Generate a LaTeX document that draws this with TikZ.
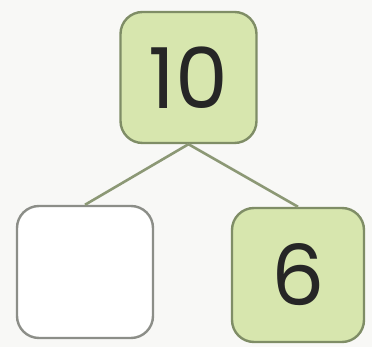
\documentclass[tikz,border=0pt]{standalone}
\usepackage{fontspec}
\setsansfont{Poppins}
\usepackage{tikz}
\usetikzlibrary{positioning}
\definecolor{boxgreen}{HTML}{D7E6AE}
\definecolor{edgegreen}{HTML}{7F8D66}
\definecolor{edgegray}{HTML}{8C8E88}
\definecolor{paper}{HTML}{F8F8F6}
\tikzset{
    numbox/.style={draw=edgegreen, fill=boxgreen, line width=2.4pt, rounded corners=22pt,
        minimum width=136pt, minimum height=132pt, inner sep=0pt,
        font=\sffamily\fontsize{84}{84}\selectfont, text=black!85},
    blankbox/.style={numbox, draw=edgegray, fill=white},
    branch/.style={draw=edgegreen!90, line width=2.6pt},
}
\begin{document}
\begin{tikzpicture}[x=1pt,y=1pt]
    \fill[paper] (0,0) rectangle (372,347);
    \useasboundingbox (0,0) rectangle (372,347);
    \node[numbox, minimum height=131pt] (whole) at (188.5,269.5) {10};
    \node[blankbox] (partA) at (85,75) {};
    \node[numbox, minimum width=132pt, minimum height=134pt] (partB) at (298,72) {6};
    \draw[branch] (whole.south) -- (partA.north);
    \draw[branch] (whole.south) -- (partB.north);
\end{tikzpicture}
\end{document}
